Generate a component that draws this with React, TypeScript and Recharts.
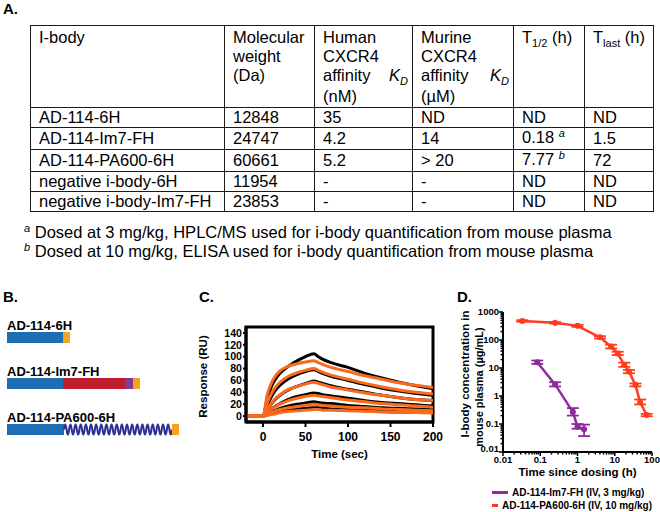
import React from 'react';
import { BarChart, Bar, XAxis, YAxis, LineChart, Line, ErrorBar, ReferenceArea, Legend, LabelList } from 'recharts';

const FONT = "'Liberation Sans', Arial, Helvetica, sans-serif";

// ---------- Panel A: table ----------
const iBodies = ['AD-114-6H', 'AD-114-Im7-FH', 'AD-114-PA600-6H', 'negative i-body-6H', 'negative i-body-Im7-FH'];
const molecularWeights = ['12848', '24747', '60661', '11954', '23853'];
const humanKD = ['35', '4.2', '5.2', '-', '-'];
const murineKD = ['ND', '14', '> 20', '-', '-'];
const halfLives = ['ND', '0.18', '7.77', 'ND', 'ND'];
const halfLifeNotes = ['', 'a', 'b', '', ''];
const tLasts = ['ND', '1.5', '72', 'ND', 'ND'];
const footnoteMarks = ['a', 'b'];
const footnoteTexts = [
  'Dosed at 3 mg/kg, HPLC/MS used for i-body quantification from mouse plasma',
  'Dosed at 10 mg/kg, ELISA used for i-body quantification from mouse plasma',
];

// ---------- Panel B: construct schematics (segment lengths) ----------
const constructs = ['AD-114-6H', 'AD-114-Im7-FH', 'AD-114-PA600-6H'];
const ibodySeg = [56, 56, 57];
const im7Seg = [0, 62, 0];
const flagSeg = [0, 8, 0];
const pasSeg = [0, 0, 108];
const hisSeg = [7, 7, 7];

// ---------- Panel C: SPR sensorgram ----------
const sprTimes = [-20, -5, 0, 5, 10, 15, 20, 30, 40, 50, 60, 65, 70, 80, 100, 120, 140, 160, 180, 200];
const measured1 = [0, 0, 0, 30, 50, 63, 72, 84, 93, 100, 105, 100, 96, 90, 82, 72, 64, 57, 51, 46];
const measured2 = [0, 0, 0, 18, 33, 44, 52, 63, 70, 75, 78, 75, 72, 67, 60, 53, 47, 42, 38, 35];
const measured3 = [0, 0, 0, 11, 21, 29, 35, 44, 50, 55, 59, 57, 55, 51, 45, 40, 35, 31, 28, 26];
const measured4 = [0, 0, 0, 6, 12, 17, 21, 28, 33, 36, 39, 38, 36, 34, 30, 26, 23, 21, 19, 17];
const measured5 = [0, 0, 0, 3, 7, 10, 13, 17, 20, 22, 24, 23, 22, 21, 18, 16, 14, 13, 12, 11];
const measured6 = [0, 0, 0, 2, 4, 6, 7, 10, 12, 13, 14, 14, 13, 12, 11, 10, 9, 8, 7, 7];
const fit1 = [0, 0, 0, 36, 56, 68, 76, 84, 88, 91, 93, 90, 87, 82, 75, 68, 62, 56, 52, 48];
const fit2 = [0, 0, 0, 22, 38, 49, 57, 67, 73, 77, 80, 77, 74, 69, 62, 55, 49, 44, 40, 37];
const fit3 = [0, 0, 0, 12, 22, 30, 36, 45, 50, 54, 57, 55, 53, 49, 44, 39, 35, 31, 28, 26];
const fit4 = [0, 0, 0, 6, 12, 16, 20, 26, 30, 33, 35, 34, 33, 31, 27, 24, 21, 19, 17, 15];
const fit5 = [0, 0, 0, 3, 6, 9, 11, 14, 16, 18, 20, 19, 18, 17, 15, 14, 12, 11, 10, 9];
const fit6 = [0, 0, 0, 1, 3, 4, 6, 8, 9, 10, 11, 11, 10, 10, 9, 8, 7, 6, 6, 5];
const sprXTicks = [0, 50, 100, 150, 200];
const sprYTicks = [0, 20, 40, 60, 80, 100, 120, 140];

// ---------- Panel D: pharmacokinetics ----------
const im7Times = [0.083, 0.25, 0.75, 1, 1.5];
const im7Conc = [16, 2.6, 0.27, 0.08, 0.065];
const im7ErrLow = [2, 0.4, 0.07, 0.012, 0.028];
const im7ErrHigh = [2.5, 0.5, 0.1, 0.02, 0.03];
const pa600Times = [0.033, 0.25, 1, 4, 8, 12, 18, 24, 36, 48, 72];
const pa600Conc = [480, 410, 320, 125, 58, 33, 13, 7.5, 2.5, 0.6, 0.21];
const pa600ErrLow = [30, 25, 25, 12, 8, 4, 2, 1, 0.3, 0.1, 0.02];
const pa600ErrHigh = [30, 25, 25, 12, 10, 5, 2.5, 1, 0.3, 0.15, 0.02];
const pkXMajor = [0.01, 0.1, 1, 10, 100];
const pkYMajor = [0.01, 0.1, 1, 10, 100, 1000];

// ---------- built tables ----------
const schematicRows = constructs.map((name, i) => ({
  name, ibody: ibodySeg[i], im7: im7Seg[i], flag: flagSeg[i], pas: pasSeg[i], his: hisSeg[i],
}));
const measuredSets = [measured1, measured2, measured3, measured4, measured5, measured6];
const fitSets = [fit1, fit2, fit3, fit4, fit5, fit6];
const sprRows = sprTimes.map((t, i) => {
  const row: any = { t };
  measuredSets.forEach((s, k) => { row['m' + k] = s[i]; });
  fitSets.forEach((s, k) => { row['f' + k] = s[i]; });
  return row;
});
const im7Rows = im7Times.map((t, i) => ({ t, c: im7Conc[i], err: [im7ErrLow[i], im7ErrHigh[i]] }));
const pa600Rows = pa600Times.map((t, i) => ({ t, c: pa600Conc[i], err: [pa600ErrLow[i], pa600ErrHigh[i]] }));
const minorOf = (majors: number[]) => {
  const out: number[] = [];
  majors.forEach((m, idx) => {
    out.push(m);
    if (idx < majors.length - 1) for (let k = 2; k <= 9; k++) out.push(+(m * k).toPrecision(3));
  });
  return out;
};
const pkXTicks = minorOf(pkXMajor);
const pkYTicks = minorOf(pkYMajor);

// ---------- colours ----------
const BLUE = '#1f6db5';
const RED = '#c01e2e';
const PURPLE = '#7d3c98';
const ORANGE_TAG = '#f7a021';
const NAVY = '#2e3191';
const FIT_ORANGE = '#fb6a1c';
const PK_PURPLE = '#8e2c9c';
const PK_RED = '#ff3b1f';

// ---------- small components ----------
const PanelLabel = ({ text, left, top }: any) => (
  <div style={{ position: 'absolute', left, top, fontSize: 15, fontWeight: 'bold', lineHeight: '15px' }}>{text}</div>
);

const Sub = ({ children, italic }: any) => (
  <span style={{ fontSize: 11, position: 'relative', top: 4, fontStyle: italic ? 'italic' : 'normal' }}>{children}</span>
);
const Sup = ({ children }: any) => (
  <span style={{ fontSize: 11, position: 'relative', top: -6, fontStyle: 'italic' }}>{children}</span>
);

const border = '1px solid #1a1a1a';
const cell: React.CSSProperties = { border, padding: '0 8px', lineHeight: '19px', height: 19, textAlign: 'left', verticalAlign: 'middle', whiteSpace: 'nowrap' };
const head: React.CSSProperties = { border, padding: '2px 8px 1px 8px', lineHeight: '19px', textAlign: 'left', verticalAlign: 'top' };

const AffinityHead = ({ species, unit }: any) => (
  <td style={{ ...head, paddingRight: 4 }}>
    <div>{species}</div>
    <div>CXCR4</div>
    <div style={{ display: 'flex', justifyContent: 'space-between' }}>
      <span>affinity</span>
      <span style={{ fontStyle: 'italic' }}>K<Sub italic>D</Sub></span>
    </div>
    <div>{unit}</div>
  </td>
);

const PropertyTable = () => (
  <table style={{ position: 'absolute', left: 30, top: 25, width: 623, borderCollapse: 'collapse', tableLayout: 'fixed', fontSize: 16.5, fontFamily: FONT }}>
    <colgroup>
      {[194, 90, 98, 101, 71, 69].map((w, i) => <col key={i} style={{ width: w }} />)}
    </colgroup>
    <tbody>
      <tr>
        <td style={head}>I-body</td>
        <td style={head}><div>Molecular</div><div>weight</div><div>(Da)</div></td>
        <AffinityHead species="Human" unit="(nM)" />
        <AffinityHead species="Murine" unit="(µM)" />
        <td style={head}>T<Sub>1/2</Sub> (h)</td>
        <td style={head}>T<Sub>last</Sub> (h)</td>
      </tr>
      {iBodies.map((name, i) => (
        <tr key={name}>
          <td style={cell}>{name}</td>
          <td style={cell}>{molecularWeights[i]}</td>
          <td style={cell}>{humanKD[i]}</td>
          <td style={cell}>{murineKD[i]}</td>
          <td style={cell}>{halfLives[i]}{halfLifeNotes[i] ? <> <Sup>{halfLifeNotes[i]}</Sup></> : null}</td>
          <td style={cell}>{tLasts[i]}</td>
        </tr>
      ))}
    </tbody>
  </table>
);

const Footnotes = () => (
  <div style={{ position: 'absolute', left: 24, top: 224, fontSize: 16.5, lineHeight: '17px', whiteSpace: 'nowrap' }}>
    {footnoteTexts.map((t, i) => (
      <div key={i}><Sup>{footnoteMarks[i]}</Sup> {t}</div>
    ))}
  </div>
);

// ---------- Panel B ----------
const ConstructLabel = (props: any) => {
  const { x, y, value } = props;
  return <text x={x} y={y - 2.5} fontSize={13} fontWeight="bold" fontFamily={FONT} fill="#000">{value}</text>;
};

const SpringShape = (props: any) => {
  const { x, y, width, height } = props;
  if (!width || width <= 0) return null;
  const coils = 21;
  const half = width / (coils * 2);
  const mid = y + height / 2;
  let d = `M${x},${mid}`;
  for (let i = 0; i < coils * 2; i++) {
    const cx = x + (i + 0.5) * half;
    const ex = x + (i + 1) * half;
    const cy = i % 2 === 0 ? y - height / 2 + 1 : y + height * 1.5 - 1;
    d += ` Q${cx},${cy} ${ex},${mid}`;
  }
  return <path d={d} fill="none" stroke={NAVY} strokeWidth={2} />;
};

const SchematicChart = () => (
  <BarChart layout="vertical" width={200} height={150} data={schematicRows} margin={{ top: 4, right: 3, bottom: 8, left: 7 }}>
    <XAxis type="number" hide domain={[0, 190]} />
    <YAxis type="category" dataKey="name" hide />
    <Bar dataKey="ibody" stackId="s" fill={BLUE} barSize={11} isAnimationActive={false}>
      <LabelList dataKey="name" content={<ConstructLabel />} />
    </Bar>
    <Bar dataKey="im7" stackId="s" fill={RED} barSize={11} isAnimationActive={false} />
    <Bar dataKey="flag" stackId="s" fill={PURPLE} barSize={11} isAnimationActive={false} />
    <Bar dataKey="pas" stackId="s" fill="none" barSize={11} shape={<SpringShape />} isAnimationActive={false} />
    <Bar dataKey="his" stackId="s" fill={ORANGE_TAG} barSize={11} isAnimationActive={false} />
  </BarChart>
);

// ---------- axis titles ----------
const AxisTitleX = ({ viewBox, text, dy, fontSize }: any) => {
  const { x, y, width } = viewBox;
  return <text x={x + width / 2} y={y + dy} textAnchor="middle" fontSize={fontSize} fontWeight="bold" fontFamily={FONT} fill="#000">{text}</text>;
};
const AxisTitleY = ({ viewBox, lines, dxs, dys, sizes }: any) => {
  const { x, y, height } = viewBox;
  return (
    <g>
      {lines.map((l: string, i: number) => {
        const cx = x + dxs[i];
        const cy = y + height / 2 + dys[i];
        return (
          <text key={i} x={cx} y={cy} transform={`rotate(-90 ${cx} ${cy})`} textAnchor="middle" dominantBaseline="central" fontSize={sizes[i]} fontWeight="bold" fontFamily={FONT} fill="#000">{l}</text>
        );
      })}
    </g>
  );
};

const xTickStyle = { fontSize: 12, fontWeight: 'bold', fill: '#000', fontFamily: FONT };
const yTickStyle = { fontSize: 10.6, fontWeight: 'bold', fill: '#000', fontFamily: FONT };

// ---------- Panel C ----------
const SprChart = () => (
  <LineChart width={260} height={160} data={sprRows} margin={{ top: 12, right: 17, bottom: 15, left: 18 }}>
    <XAxis dataKey="t" type="number" domain={[-20, 200]} ticks={sprXTicks} allowDataOverflow height={38}
      tickSize={5} tickMargin={5} tick={xTickStyle} axisLine={{ stroke: '#000', strokeWidth: 3 }} tickLine={{ stroke: '#000', strokeWidth: 2 }}
      label={<AxisTitleX text="Time (sec)" dy={36} fontSize={11.5} />} />
    <YAxis type="number" domain={[-10, 150]} ticks={sprYTicks} allowDataOverflow width={38} interval={0}
      tickSize={3} tickMargin={1} tick={yTickStyle} axisLine={{ stroke: '#000', strokeWidth: 3 }} tickLine={{ stroke: '#000', strokeWidth: 2 }}
      label={<AxisTitleY lines={['Response (RU)']} dxs={[-5]} dys={[2]} sizes={[11.5]} />} />
    <ReferenceArea x1={-20} x2={200} y1={-10} y2={150} fill="none" stroke="#000" strokeWidth={3} ifOverflow="visible" />
    {measuredSets.map((_, k) => (
      <Line key={'m' + k} dataKey={'m' + k} type="monotone" stroke="#000" strokeWidth={3} dot={false} isAnimationActive={false} />
    ))}
    {fitSets.map((_, k) => (
      <Line key={'f' + k} dataKey={'f' + k} type="monotone" stroke={FIT_ORANGE} strokeWidth={3} dot={false} isAnimationActive={false} />
    ))}
  </LineChart>
);

// ---------- Panel D ----------
const fmt = (v: number) => String(v);
const LogTickX = (props: any) => {
  const { x, y, payload } = props;
  const v = payload.value;
  const major = pkXMajor.includes(v);
  return (
    <g>
      <line x1={x} y1={y} x2={x} y2={y + (major ? 4 : 2.5)} stroke="#000" strokeWidth={1.5} />
      {major && <text x={x} y={y + 11} textAnchor="middle" fontSize={9.5} fontWeight="bold" fontFamily={FONT} fill="#000">{fmt(v)}</text>}
    </g>
  );
};
const LogTickY = (props: any) => {
  const { x, y, payload } = props;
  const v = payload.value;
  const major = pkYMajor.includes(v);
  const lift = v === pkYMajor[0] ? 3.5 : 0;
  return (
    <g>
      <line x1={x} y1={y} x2={x - (major ? 4 : 2.5)} y2={y} stroke="#000" strokeWidth={1.5} />
      {major && <text x={x - 4} y={y + 3.4 - lift} textAnchor="end" fontSize={9.5} fontWeight="bold" fontFamily={FONT} fill="#000">{fmt(v)}</text>}
    </g>
  );
};

const PkLegend = (props: any) => {
  const payload = props.payload || [];
  return (
    <div style={{ height: 32, paddingTop: 10, paddingLeft: 34, boxSizing: 'border-box', fontFamily: FONT }}>
      {payload.map((p: any) => (
        <div key={p.value} style={{ display: 'flex', alignItems: 'center', height: 13 }}>
          <span style={{ display: 'inline-block', width: 16, height: 3, background: p.color, marginRight: 4 }} />
          <span style={{ fontSize: 10, fontWeight: 'bold', lineHeight: '13px', whiteSpace: 'nowrap' }}>{p.value}</span>
        </div>
      ))}
    </div>
  );
};

const PkChart = () => (
  <LineChart width={230} height={212} margin={{ top: 12, right: 8, bottom: 4, left: 28 }}>
    <XAxis dataKey="t" type="number" scale="log" domain={[0.01, 100]} ticks={pkXTicks} allowDataOverflow interval={0}
      height={24} tickSize={0} tickMargin={0} tickLine={false} tick={<LogTickX />} axisLine={{ stroke: '#000', strokeWidth: 2 }}
      label={<AxisTitleX text="Time since dosing (h)" dy={24} fontSize={11.5} />} />
    <YAxis type="number" scale="log" domain={[0.01, 1000]} ticks={pkYTicks} allowDataOverflow interval={0}
      width={45} tickSize={0} tickMargin={0} tickLine={false} tick={<LogTickY />} axisLine={{ stroke: '#000', strokeWidth: 2 }}
      label={<AxisTitleY lines={['I-body concentration in', 'mouse plasma (µg/mL)']} dxs={[7, 21]} dys={[-8, 5]} sizes={[11.5, 11]} />} />
    <Legend verticalAlign="bottom" align="left" content={<PkLegend />} />
    <Line data={im7Rows} dataKey="c" name="AD-114-Im7-FH (IV, 3 mg/kg)" type="linear" stroke={PK_PURPLE} strokeWidth={2.5}
      dot={{ r: 1.8, fill: PK_PURPLE, stroke: PK_PURPLE }} isAnimationActive={false}>
      <ErrorBar dataKey="err" width={6} stroke={PK_PURPLE} strokeWidth={1.8} direction="y" isAnimationActive={false} />
    </Line>
    <Line data={pa600Rows} dataKey="c" name="AD-114-PA600-6H (IV, 10 mg/kg)" type="linear" stroke={PK_RED} strokeWidth={2.5}
      dot={{ r: 1.8, fill: PK_RED, stroke: PK_RED }} isAnimationActive={false}>
      <ErrorBar dataKey="err" width={6} stroke={PK_RED} strokeWidth={1.8} direction="y" isAnimationActive={false} />
    </Line>
  </LineChart>
);

export default function App() {
  return (
    <div style={{ position: 'absolute', left: 0, top: 0, width: 660, height: 512, background: '#fff', fontFamily: FONT, color: '#000', overflow: 'hidden' }}>
      <PanelLabel text="A." left={3} top={1} />
      <PropertyTable />
      <Footnotes />
      <PanelLabel text="B." left={3} top={289} />
      <PanelLabel text="C." left={199} top={289} />
      <PanelLabel text="D." left={457} top={289} />
      <div style={{ position: 'absolute', left: 0, top: 310 }}><SchematicChart /></div>
      <div style={{ position: 'absolute', left: 190, top: 315 }}><SprChart /></div>
      <div style={{ position: 'absolute', left: 430, top: 300 }}><PkChart /></div>
    </div>
  );
}
